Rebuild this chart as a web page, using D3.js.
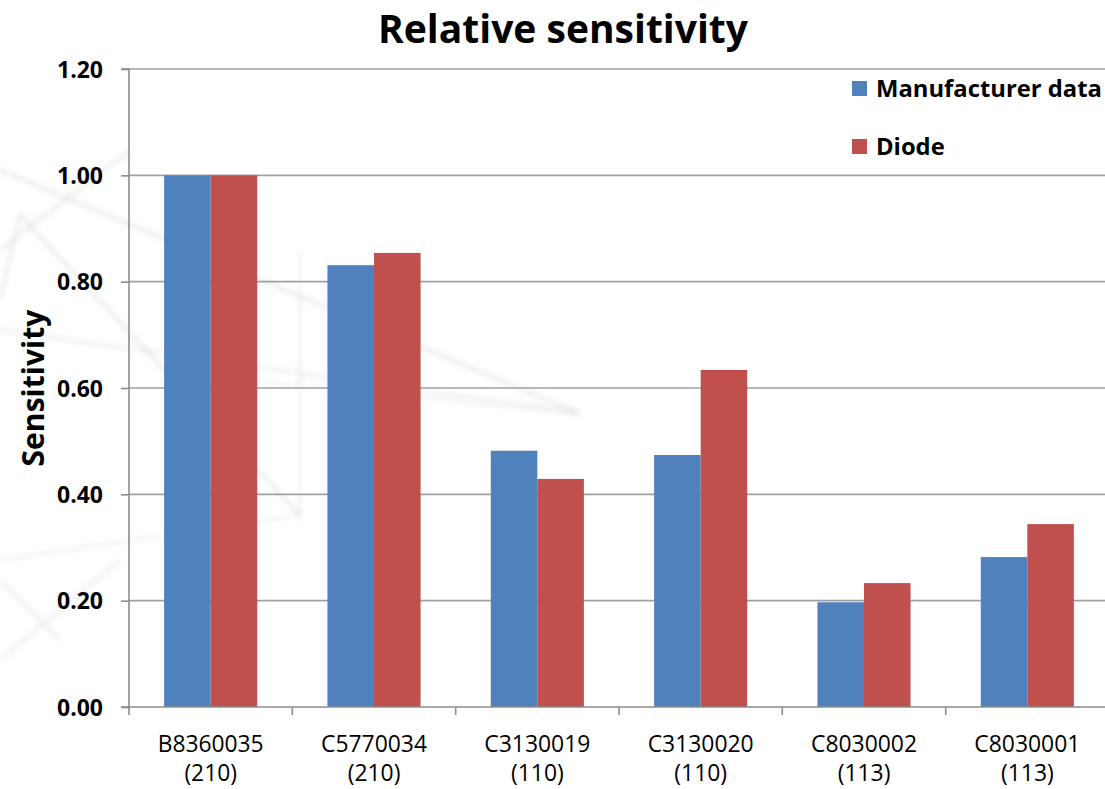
<!DOCTYPE html>
<html>
<head>
<meta charset="utf-8">
<script src="https://cdn.jsdelivr.net/npm/d3@7"></script>
<style>
  html, body { margin: 0; padding: 0; background: #fff; }
  svg { display: block; }
  text { font-family: "Open Sans", Lato, sans-serif; fill: #000; }
</style>
</head>
<body>
<svg id="chart" width="1105" height="789"></svg>
<script>
// Sensor identifiers and their type codes
const categories = ["B8360035", "C5770034", "C3130019", "C3130020", "C8030002", "C8030001"];
const typeCodes = ["(210)", "(210)", "(110)", "(110)", "(113)", "(113)"];
const seriesNames = ["Manufacturer data", "Diode"];
const manufacturerValues = [1.00, 0.831, 0.482, 0.474, 0.197, 0.282];
const diodeValues = [1.00, 0.854, 0.429, 0.634, 0.233, 0.344];
const yTicks = [0, 0.2, 0.4, 0.6, 0.8, 1.0, 1.2];
const colors = ["#4F81BD", "#C0504D"];

const svg = d3.select("#chart");
const margin = { left: 129, top: 69, right: -4, bottom: 82 };
const W = 1105, H = 789;
const plotW = W - margin.left - margin.right;
const plotH = H - margin.top - margin.bottom;

// scale a text's font size so that it spans the given width
function fitWidth(sel, width) {
  sel.each(function () {
    const el = d3.select(this);
    const fs = parseFloat(el.attr("font-size"));
    const len = this.getComputedTextLength();
    if (len > 0) el.attr("font-size", (fs * width / len).toFixed(2));
  });
}

// faint decorative line pattern in the background
const defs = svg.append("defs");
defs.append("filter").attr("id", "soft").append("feGaussianBlur").attr("stdDeviation", 2.4);
const deco = svg.append("g").attr("filter", "url(#soft)").attr("stroke", "#000").attr("fill", "none");
const decoLines = [
  [[0, 170], [578, 413], 0.06, 5],
  [[0, 330], [578, 413], 0.045, 5],
  [[20, 215], [300, 515], 0.07, 4],
  [[0, 250], [130, 150], 0.05, 5],
  [[300, 250], [300, 520], 0.045, 4],
  [[0, 560], [300, 515], 0.045, 4],
  [[0, 660], [120, 560], 0.055, 4],
  [[0, 580], [60, 640], 0.055, 4],
  [[20, 215], [0, 300], 0.05, 5],
  [[240, 380], [578, 413], 0.035, 4]
];
decoLines.forEach(([a, b, op, w]) => {
  deco.append("line").attr("x1", a[0]).attr("y1", a[1]).attr("x2", b[0]).attr("y2", b[1])
    .attr("stroke-opacity", op).attr("stroke-width", w);
});

const g = svg.append("g").attr("transform", `translate(${margin.left},${margin.top})`);

const x0 = d3.scaleBand().domain(categories).range([0, plotW]).paddingInner(0.43).paddingOuter(0.215);
const x1 = d3.scaleBand().domain(seriesNames).range([0, x0.bandwidth()]);
const y = d3.scaleLinear().domain([0, 1.2]).range([plotH, 0]);

// horizontal gridlines
g.append("g").selectAll("line").data(yTicks.slice(1)).join("line")
  .attr("x1", 0).attr("x2", plotW)
  .attr("y1", d => y(d)).attr("y2", d => y(d))
  .attr("stroke", "#a0a0a0").attr("stroke-width", 1.6);

// bars
const data = categories.map((c, i) => ({ c, vals: [manufacturerValues[i], diodeValues[i]] }));
const groups = g.append("g").selectAll("g").data(data).join("g")
  .attr("transform", d => `translate(${x0(d.c)},0)`);
groups.selectAll("rect").data(d => d.vals.map((v, k) => ({ v, k })))
  .join("rect")
  .attr("x", d => x1(seriesNames[d.k]))
  .attr("width", x1.bandwidth())
  .attr("y", d => y(d.v))
  .attr("height", d => plotH - y(d.v))
  .attr("fill", d => colors[d.k]);

// y axis
const yAxis = g.append("g")
  .call(d3.axisLeft(y).tickValues(yTicks).tickFormat(d3.format(".2f")).tickSize(8).tickPadding(26));
yAxis.select(".domain").attr("stroke", "#8c8c8c").attr("stroke-width", 1.6).attr("d", `M-8,${y(1.2)}H0V${plotH}H-8`);
yAxis.selectAll(".tick line").attr("stroke", "#8c8c8c").attr("stroke-width", 1.6);
yAxis.selectAll(".tick text").attr("font-size", 20).attr("font-weight", 700)
  .attr("text-anchor", "start").attr("x", -72).attr("dy", "0.36em");
fitWidth(yAxis.selectAll(".tick text"), 46);

// x axis with ticks at category boundaries
const xg = g.append("g").attr("transform", `translate(0,${plotH})`);
xg.append("line").attr("x1", 0).attr("x2", plotW).attr("stroke", "#8c8c8c").attr("stroke-width", 1.6);
const step = x0.step();
const boundaries = d3.range(categories.length + 1).map(i => x0(categories[0]) - x0.paddingOuter() * step + i * step);
xg.selectAll(".bt").data(boundaries).join("line")
  .attr("x1", d => d).attr("x2", d => d).attr("y1", 0).attr("y2", 8)
  .attr("stroke", "#8c8c8c").attr("stroke-width", 1.6);
const lbl = xg.selectAll(".lbl").data(categories).join("text")
  .attr("text-anchor", "middle").attr("font-size", 20)
  .attr("transform", d => `translate(${x0(d) + x0.bandwidth() / 2},0)`);
lbl.append("tspan").attr("x", 0).attr("y", 45).text(d => d);
lbl.append("tspan").attr("x", 0).attr("y", 74).text((d, i) => typeCodes[i]);
// size category labels by the width of the first line
lbl.each(function () {
  const t = d3.select(this);
  const len = t.select("tspan").node().getComputedTextLength();
  t.attr("font-size", (20 * 106 / len).toFixed(2));
});

// legend on a white panel
const leg = svg.append("g");
leg.append("rect").attr("x", 840).attr("y", 71).attr("width", 270).attr("height", 102).attr("fill", "#fff");
seriesNames.forEach((s, i) => {
  const yy = 81 + i * 58;
  leg.append("rect").attr("x", 852).attr("y", yy).attr("width", 15).attr("height", 15).attr("fill", colors[i]);
  const t = leg.append("text").attr("x", 876).attr("y", yy + 16).attr("font-size", 24).attr("font-weight", 700).text(s);
  if (i === 0) fitWidth(t, 226);
});
leg.selectAll("text").attr("font-size", leg.select("text").attr("font-size"));

// title and axis title
const title = svg.append("text").attr("x", 563).attr("y", 43).attr("text-anchor", "middle")
  .attr("font-size", 37).attr("font-weight", 700).text("Relative sensitivity");
fitWidth(title, 370);
const ytitle = svg.append("text").attr("transform", "translate(44,388) rotate(-90)").attr("text-anchor", "middle")
  .attr("font-size", 27).attr("font-weight", 700).text("Sensitivity");
fitWidth(ytitle, 157);
</script>
</body>
</html>
